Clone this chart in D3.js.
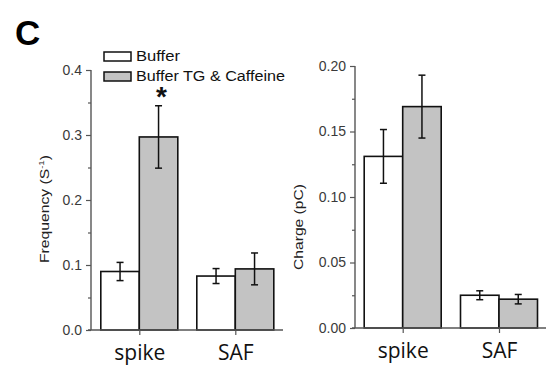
<!DOCTYPE html>
<html>
<head>
<meta charset="utf-8">
<script src="https://cdn.jsdelivr.net/npm/d3@7/dist/d3.min.js"></script>
<style>
  html, body { margin: 0; padding: 0; background: #fff; }
  svg { display: block; }
</style>
</head>
<body>
<svg id="fig" width="548" height="371"></svg>
<script>
// Groups and conditions
const categories = ["spike", "SAF"];
const series = ["Buffer", "Buffer TG & Caffeine"];

// Frequency panel (S^-1): means and error half-widths per series
const freqBuffer = [0.090, 0.083];
const freqBufferErr = [0.014, 0.0115];
const freqTG = [0.297, 0.094];
const freqTGErr = [0.048, 0.0245];

// Charge panel (pC)
const chargeBuffer = [0.131, 0.025];
const chargeBufferErr = [0.0205, 0.0034];
const chargeTG = [0.169, 0.022];
const chargeTGErr = [0.024, 0.0036];

const freqTicks = [0.0, 0.1, 0.2, 0.3, 0.4];
const chargeTicks = [0.00, 0.05, 0.10, 0.15, 0.20];

const fills = { "Buffer": "#ffffff", "Buffer TG & Caffeine": "#c3c3c3" };
const axisColor = "#555";
const svg = d3.select("#fig");

function panel(opts) {
  const g = svg.append("g");
  const y = d3.scaleLinear().domain(opts.domain).range([opts.bottom, opts.top]);
  const x0 = d3.scalePoint().domain(categories).range(opts.centers);
  const x1 = d3.scaleBand().domain(series).range([-opts.barW, opts.barW]).padding(0);

  const rows = [];
  categories.forEach((c, i) => {
    rows.push({ cat: c, s: series[0], v: opts.a[i], e: opts.aErr[i] });
    rows.push({ cat: c, s: series[1], v: opts.b[i], e: opts.bErr[i] });
  });

  // bars
  g.selectAll("rect.bar").data(rows).join("rect")
    .attr("class", "bar")
    .attr("x", d => x0(d.cat) + x1(d.s))
    .attr("width", x1.bandwidth())
    .attr("y", d => y(d.v))
    .attr("height", d => y(0) - y(d.v))
    .attr("fill", d => fills[d.s])
    .attr("stroke", "#111")
    .attr("stroke-width", 1.6);

  // error bars
  const eb = g.selectAll("g.err").data(rows).join("g").attr("class", "err")
    .attr("transform", d => `translate(${x0(d.cat) + x1(d.s) + x1.bandwidth() / 2},0)`);
  eb.append("line").attr("y1", d => y(d.v + d.e)).attr("y2", d => y(d.v - d.e))
    .attr("stroke", "#111").attr("stroke-width", 1.5);
  eb.append("line").attr("x1", -3.5).attr("x2", 3.5)
    .attr("y1", d => y(d.v + d.e)).attr("y2", d => y(d.v + d.e))
    .attr("stroke", "#111").attr("stroke-width", 1.5);
  eb.append("line").attr("x1", -3.5).attr("x2", 3.5)
    .attr("y1", d => y(d.v - d.e)).attr("y2", d => y(d.v - d.e))
    .attr("stroke", "#111").attr("stroke-width", 1.5);

  // y axis: major labelled ticks plus unlabelled minor ticks
  const yAxis = g.append("g").attr("transform", `translate(${opts.axisX},0)`)
    .call(d3.axisLeft(y).tickValues(opts.ticks).tickFormat(opts.fmt).tickSize(5).tickPadding(4));
  const minors = d3.pairs(opts.ticks).map(p => (p[0] + p[1]) / 2);
  g.append("g").attr("transform", `translate(${opts.axisX},0)`)
    .call(d3.axisLeft(y).tickValues(minors).tickFormat("").tickSize(3))
    .call(a => a.select(".domain").remove())
    .selectAll("line").attr("stroke", axisColor).attr("stroke-width", 1.2);
  yAxis.select(".domain").attr("stroke", axisColor).attr("stroke-width", 1.4)
    .attr("d", `M0,${opts.top}V${opts.bottom}`);
  yAxis.selectAll(".tick line").attr("stroke", axisColor).attr("stroke-width", 1.2);
  yAxis.selectAll(".tick text")
    .attr("font-family", "'Liberation Sans', Arial, sans-serif")
    .attr("font-size", 14).attr("fill", "#3a3a3a");

  // x axis
  const xAxis = g.append("g").attr("transform", `translate(0,${opts.bottom})`)
    .call(d3.axisBottom(x0).tickSize(5).tickPadding(5));
  xAxis.select(".domain").attr("stroke", axisColor).attr("stroke-width", 1.4)
    .attr("d", `M${opts.xStart},0H${opts.xEnd}`);
  xAxis.selectAll(".tick line").attr("stroke", axisColor).attr("stroke-width", 1.2);
  xAxis.selectAll(".tick text")
    .attr("font-family", "'Open Sans', sans-serif")
    .attr("font-size", 21).attr("fill", "#111").attr("dy", "0.95em");

  // y axis title
  const t = g.append("text")
    .attr("transform", `translate(${opts.labelX},${opts.labelY}) rotate(-90)`)
    .attr("text-anchor", "middle")
    .attr("font-family", "'Liberation Sans', Arial, sans-serif")
    .attr("font-size", 13).attr("fill", "#222");
  opts.title(t);
  return { x0, x1, y };
}

const left = panel({
  domain: [0, 0.4], top: 70, bottom: 330, axisX: 91, xStart: 88, xEnd: 283,
  centers: [139.3, 235.3], barW: 38.5,
  a: freqBuffer, aErr: freqBufferErr, b: freqTG, bErr: freqTGErr,
  ticks: freqTicks, fmt: d3.format(".1f"),
  labelX: 48.5, labelY: 209,
  title: t => {
    t.attr("textLength", 108).attr("lengthAdjust", "spacingAndGlyphs");
    t.append("tspan").text("Frequency (S");
    t.append("tspan").attr("font-size", 8).attr("dy", -5).text("-1");
    t.append("tspan").attr("dy", 5).text(")");
  }
});

const right = panel({
  domain: [0, 0.2], top: 66, bottom: 328, axisX: 355, xStart: 352, xEnd: 546,
  centers: [402.7, 499], barW: 38.5,
  a: chargeBuffer, aErr: chargeBufferErr, b: chargeTG, bErr: chargeTGErr,
  ticks: chargeTicks, fmt: d3.format(".2f"),
  labelX: 303, labelY: 227,
  title: t => t.attr("textLength", 86).attr("lengthAdjust", "spacingAndGlyphs").text("Charge (pC)")
});

// significance marker above the spike TG & Caffeine bar
svg.append("text")
  .attr("x", left.x0("spike") + left.x1(series[1]) + left.x1.bandwidth() / 2 + 3)
  .attr("y", 106)
  .attr("text-anchor", "middle")
  .attr("font-family", "'Liberation Sans', Arial, sans-serif")
  .attr("font-weight", "bold").attr("font-size", 28).attr("fill", "#111")
  .text("*");

// legend
const legend = svg.append("g").attr("transform", "translate(104,52)");
series.forEach((s, i) => {
  const row = legend.append("g").attr("transform", `translate(0,${i * 20})`);
  row.append("rect").attr("width", 27).attr("height", 9)
    .attr("fill", fills[s]).attr("stroke", "#111").attr("stroke-width", 1.5);
  row.append("text").attr("x", 32).attr("y", 8.5)
    .attr("font-family", "'Liberation Sans', Arial, sans-serif")
    .attr("font-size", 14).attr("fill", "#111")
    .attr("textLength", i === 0 ? 44 : 149).attr("lengthAdjust", "spacingAndGlyphs")
    .text(s);
});

// panel letter
svg.append("text").attr("x", 15).attr("y", 45)
  .attr("font-family", "'Liberation Sans', Arial, sans-serif")
  .attr("font-weight", "bold").attr("font-size", 35).attr("fill", "#000")
  .text("C");
</script>
</body>
</html>
